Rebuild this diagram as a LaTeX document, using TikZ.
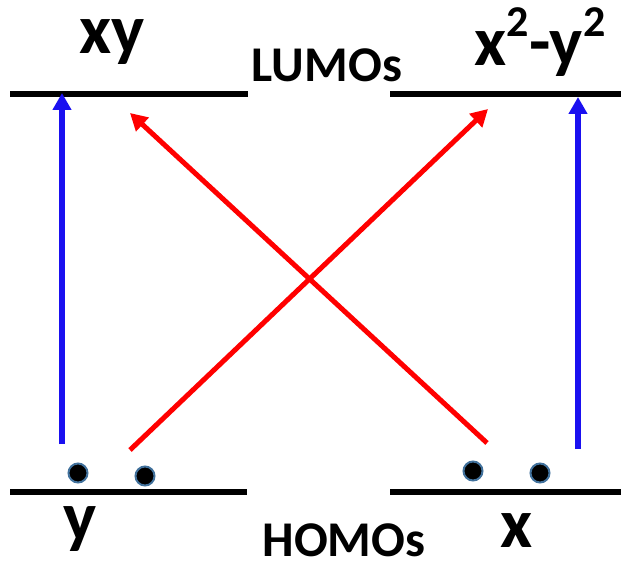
\documentclass[tikz,border=0pt]{standalone}
\usepackage{fontspec}
\setmainfont{Carlito}
\usepackage{tikz}
\usetikzlibrary{arrows.meta,positioning}
\definecolor{upblue}{HTML}{1A10F0}
\definecolor{crossred}{HTML}{FF0000}
\definecolor{rim}{HTML}{41719C}
\newcommand{\sqr}{\raisebox{0.42em}{\fontsize{44}{44}\selectfont 2}}

\begin{document}
\begin{tikzpicture}[x=1pt,y=-1pt,
  level/.style={line width=6pt},
  orb/.style={font=\fontsize{70}{70}\selectfont\bfseries,inner sep=0pt},
  tag/.style={font=\fontsize{50}{50}\selectfont\bfseries,inner sep=0pt},
  elec/.style={circle,fill=black,draw=rim,line width=2pt,minimum size=19pt,inner sep=0pt},
  blue arr/.style={-{Triangle[length=17pt,width=18pt]},draw=upblue,line width=6pt},
  red arr/.style={-{Triangle[length=17pt,width=18pt]},draw=crossred,line width=5pt}
]
\useasboundingbox (0,0) rectangle (621,567);
% energy levels
\draw[level] (10,94) -- (248,94);
\draw[level] (390,94) -- (621,94);
\draw[level] (10,492) -- (247,492);
\draw[level] (390,492) -- (621,492);
% labels
\node[orb] (xy) at (112,42) {xy};
\node[orb] (x2y2) at (540,42) {x\sqr-y\sqr};
\node[orb] (y) at (80,529) {y};
\node[orb] (x) at (517,531) {x};
\node[tag] (lumo) at (327,65) {LUMOs};
\node[tag] (homo) at (344,540) {HOMOs};
% electrons
\node[elec] (e1) at (78,473) {};
\node[elec] (e2) at (145,476) {};
\node[elec] (e3) at (473,471) {};
\node[elec] (e4) at (540,473) {};
% arrow ends
\coordinate (yB) at (62,444);
\coordinate (xyT) at (62,93);
\coordinate (xB) at (578,449);
\coordinate (x2y2T) at (578,97);
\coordinate (yR) at (130,450);
\coordinate (x2y2L) at (488,109);
\coordinate (xL) at (487,443);
\coordinate (xyR) at (130,113);
\draw[blue arr] (yB) -- (xyT);
\draw[blue arr] (xB) -- (x2y2T);
\draw[red arr] (yR) -- (x2y2L);
\draw[red arr] (xL) -- (xyR);
\end{tikzpicture}
\end{document}
